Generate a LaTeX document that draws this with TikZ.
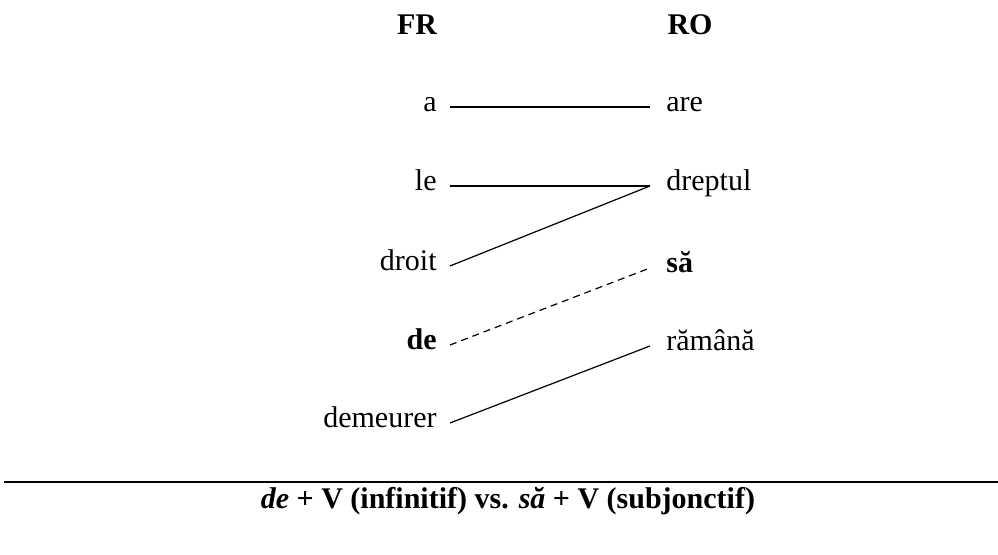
\documentclass[tikz,border=0pt]{standalone}
\usepackage{fontspec}
\setmainfont{Liberation Serif}
\usepackage{tikz}
\usetikzlibrary{arrows.meta,calc}

\begin{document}
\begin{tikzpicture}[x=0.5pt,y=-0.5pt,
    every node/.style={font=\fontsize{15}{18}\selectfont},
    head/.style={anchor=base,font=\fontsize{15}{18}\selectfont\bfseries},
    frword/.style={anchor=mid east,inner xsep=6.5pt,inner ysep=0pt},
    roword/.style={anchor=mid west,inner xsep=8pt,inner ysep=0pt},
    link/.style={line width=0.6pt}]
    \useasboundingbox (0,0) rectangle (998,555);
    \node[head] (fr) at (417,35) {FR};
    \node[head] (ro) at (690,35) {RO};
    \node[frword] (a) at (450,107) {a};
    \node[frword] (le) at (450,186) {le};
    \node[frword] (droit) at (450,266) {droit};
    \node[frword] (de) at (450,345) {\textbf{de}};
    \node[frword] (demeurer) at (450,423) {demeurer};
    \node[roword] (are) at (650,107) {are};
    \node[roword] (dreptul) at (650,186) {dreptul};
    \node[roword] (sa) at (650,268) {\textbf{să}};
    \node[roword] (ramana) at (650,346) {rămână};
    \draw[link] (a.mid east) -- (are.mid west);
    \draw[link] (le.mid east) -- (dreptul.mid west);
    \draw[link] (droit.mid east) -- (dreptul.mid west);
    \draw[link,dash pattern=on 3.5pt off 2.5pt] (de.mid east) -- (sa.mid west);
    \draw[link] (demeurer.mid east) -- (ramana.mid west);
    \coordinate (rulel) at (4,482);
    \coordinate (ruler) at (998,482);
    \draw[link] (rulel) -- (ruler);
    \node[head] (caption) at (508,509)
        {\textit{de} + V (infinitif) vs. \textit{să} + V (subjonctif)};
\end{tikzpicture}
\end{document}
